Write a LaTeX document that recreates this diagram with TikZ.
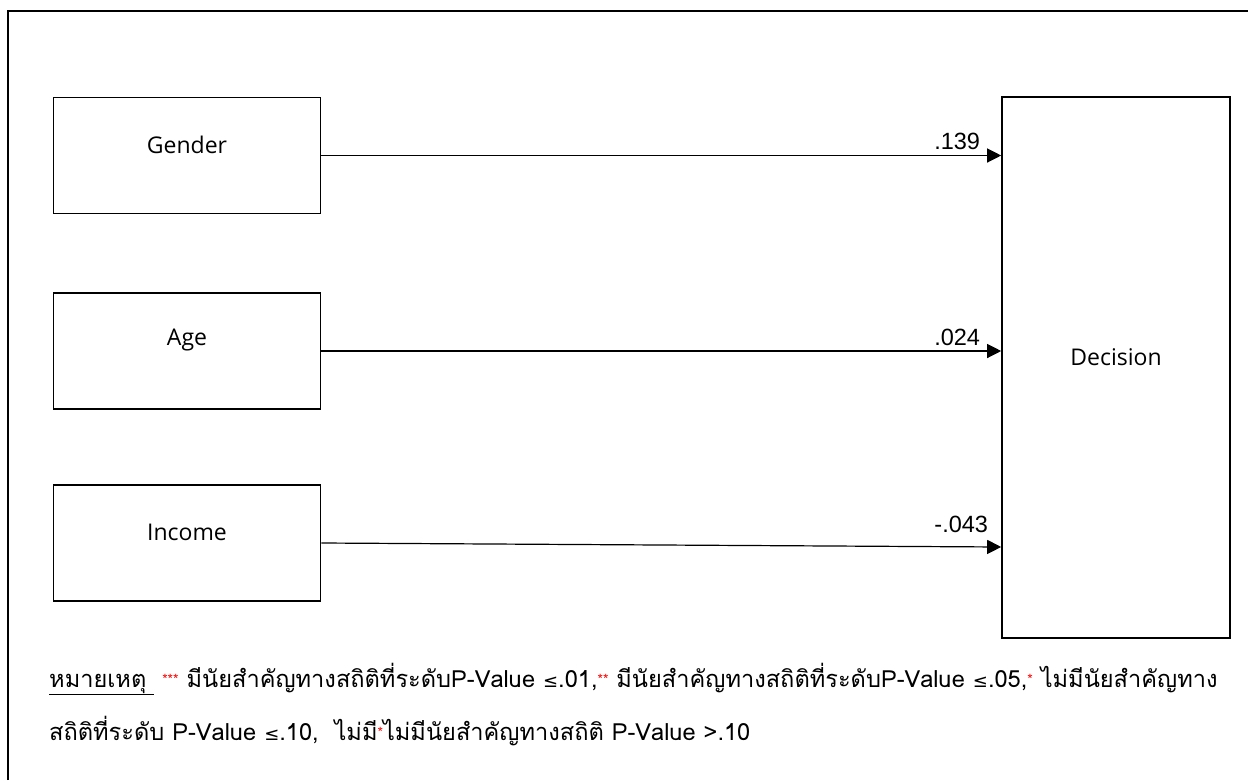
\documentclass[tikz,border=0pt]{standalone}
\usepackage{fontspec}
\usetikzlibrary{arrows.meta}
\setmainfont{Open Sans}
\newfontfamily\thaifont[Script=Thai]{Loma}
\newfontfamily\numfont{Liberation Sans}
\newfontfamily\symfont{DejaVu Sans}
\newcommand{\redst}[1]{{\color{red}\fontsize{14}{14}\selectfont\raisebox{3pt}{#1}}}
\newcommand{\lesym}{{\symfont\fontsize{18}{18}\selectfont ≤}}
\tikzset{
  varbox/.style={draw, line width=1.6pt, minimum width=267pt, minimum height=116pt, inner sep=0pt},
  decbox/.style={draw, line width=1.6pt, minimum width=228pt, minimum height=541pt, inner sep=0pt},
  boxtext/.style={font=\fontsize{23}{23}\selectfont},
  coef/.style={font=\numfont\fontsize{23.5}{23.5}\selectfont, anchor=base east, inner sep=0pt},
  conn/.style={line width=1.2pt, -{Triangle[length=14pt,width=14pt]}},
  note/.style={font=\thaifont\fontsize{23.6}{23.6}\selectfont, anchor=west, inner sep=0pt}
}
\begin{document}
\begin{tikzpicture}[x=1pt,y=-1pt]
\useasboundingbox (0,0) rectangle (1248,780);
\fill[white] (0,0) rectangle (1248,780);
\draw[line width=1.6pt] (8,780) -- (8,11) -- (1248,11);

\node[varbox, label={[boxtext, yshift=11pt]center:Gender}] (gender) at (187,155.5) {};
\node[varbox, label={[boxtext, yshift=11pt]center:Age}] (age) at (187,351) {};
\node[varbox, label={[boxtext, yshift=11pt]center:Income}] (income) at (187,543) {};
\node[decbox, label={[boxtext, yshift=10pt]center:Decision}] (decision) at (1116,367.5) {};

\coordinate (g2) at (gender.east -| decision.west);
\coordinate (a2) at (age.east -| decision.west);
\coordinate (i2) at ([yshift=-4pt]income.east -| decision.west);

\draw[conn] (gender.east) -- (g2);
\draw[conn] (age.east) -- (a2);
\draw[conn] (income.east) -- (i2);

\node[coef] (c1) at ([xshift=-21pt,yshift=6pt]g2) {.139};
\node[coef] (c2) at ([xshift=-21pt,yshift=6pt]a2) {.024};
\node[coef] (c3) at ([xshift=-13pt,yshift=15pt]i2) {-.043};

\node[note] (n1) at (49,679) {\underline{หมายเหตุ\hspace{8pt}} \redst{***} มีนัยสำคัญทางสถิติที่ระดับP-Value \lesym.01,\redst{**} มีนัยสำคัญทางสถิติที่ระดับP-Value \lesym.05,\redst{*} ไม่มีนัยสำคัญทาง};
\node[note] (n2) at (49,731) {สถิติที่ระดับ P-Value \lesym.10, \ ไม่มี\redst{*}ไม่มีนัยสำคัญทางสถิติ P-Value >.10};
\end{tikzpicture}
\end{document}
